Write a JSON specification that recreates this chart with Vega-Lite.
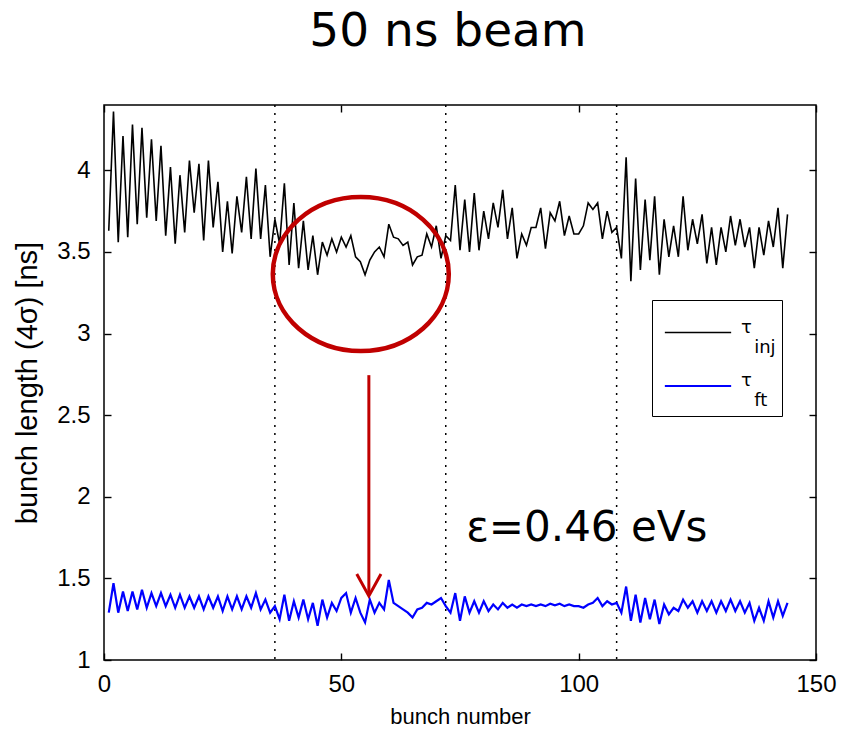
{
  "$schema": "https://vega.github.io/schema/vega-lite/v6.json",
  "width": 712,
  "height": 555,
  "autosize": {"type": "none"},
  "padding": {"left": 104, "top": 105, "right": 28, "bottom": 74},
  "background": "white",
  "title": {"text": "50 ns beam", "font": "DejaVu Sans", "fontSize": 47, "fontWeight": "normal", "color": "black", "offset": 48, "dx": -12},
  "config": {
    "view": {"stroke": "black", "strokeWidth": 1.5},
    "axis": {"domain": false, "grid": false, "tickColor": "black", "tickSize": 7, "offset": -7, "tickWidth": 1.4, "labelColor": "black", "labelFont": "Liberation Sans", "labelFontSize": 24, "labelFlush": false, "labelOverlap": false, "titleFont": "Liberation Sans", "titleFontSize": 22, "titleFontWeight": "normal", "titleColor": "black"}
  },
  "datasets": {
    "main": [
      {"b":1,"v":3.63,"s":"τ_inj"},{"b":2,"v":4.36,"s":"τ_inj"},{"b":3,"v":3.56,"s":"τ_inj"},{"b":4,"v":4.21,"s":"τ_inj"},{"b":5,"v":3.59,"s":"τ_inj"},{"b":6,"v":4.28,"s":"τ_inj"},{"b":7,"v":3.67,"s":"τ_inj"},{"b":8,"v":4.26,"s":"τ_inj"},{"b":9,"v":3.71,"s":"τ_inj"},{"b":10,"v":4.19,"s":"τ_inj"},
      {"b":11,"v":3.69,"s":"τ_inj"},{"b":12,"v":4.15,"s":"τ_inj"},{"b":13,"v":3.60,"s":"τ_inj"},{"b":14,"v":4.02,"s":"τ_inj"},{"b":15,"v":3.55,"s":"τ_inj"},{"b":16,"v":3.97,"s":"τ_inj"},{"b":17,"v":3.62,"s":"τ_inj"},{"b":18,"v":4.06,"s":"τ_inj"},{"b":19,"v":3.74,"s":"τ_inj"},{"b":20,"v":4.04,"s":"τ_inj"},
      {"b":21,"v":3.57,"s":"τ_inj"},{"b":22,"v":4.06,"s":"τ_inj"},{"b":23,"v":3.65,"s":"τ_inj"},{"b":24,"v":3.93,"s":"τ_inj"},{"b":25,"v":3.50,"s":"τ_inj"},{"b":26,"v":3.81,"s":"τ_inj"},{"b":27,"v":3.49,"s":"τ_inj"},{"b":28,"v":3.84,"s":"τ_inj"},{"b":29,"v":3.62,"s":"τ_inj"},{"b":30,"v":3.96,"s":"τ_inj"},
      {"b":31,"v":3.58,"s":"τ_inj"},{"b":32,"v":4.01,"s":"τ_inj"},{"b":33,"v":3.58,"s":"τ_inj"},{"b":34,"v":3.91,"s":"τ_inj"},{"b":35,"v":3.47,"s":"τ_inj"},{"b":36,"v":3.70,"s":"τ_inj"},{"b":37,"v":3.55,"s":"τ_inj"},{"b":38,"v":3.92,"s":"τ_inj"},{"b":39,"v":3.42,"s":"τ_inj"},{"b":40,"v":3.80,"s":"τ_inj"},
      {"b":41,"v":3.40,"s":"τ_inj"},{"b":42,"v":3.69,"s":"τ_inj"},{"b":43,"v":3.39,"s":"τ_inj"},{"b":44,"v":3.60,"s":"τ_inj"},{"b":45,"v":3.36,"s":"τ_inj"},{"b":46,"v":3.56,"s":"τ_inj"},{"b":47,"v":3.48,"s":"τ_inj"},{"b":48,"v":3.58,"s":"τ_inj"},{"b":49,"v":3.50,"s":"τ_inj"},{"b":50,"v":3.59,"s":"τ_inj"},
      {"b":51,"v":3.53,"s":"τ_inj"},{"b":52,"v":3.60,"s":"τ_inj"},{"b":53,"v":3.47,"s":"τ_inj"},{"b":54,"v":3.44,"s":"τ_inj"},{"b":55,"v":3.36,"s":"τ_inj"},{"b":56,"v":3.45,"s":"τ_inj"},{"b":57,"v":3.50,"s":"τ_inj"},{"b":58,"v":3.53,"s":"τ_inj"},{"b":59,"v":3.47,"s":"τ_inj"},{"b":60,"v":3.67,"s":"τ_inj"},
      {"b":61,"v":3.59,"s":"τ_inj"},{"b":62,"v":3.58,"s":"τ_inj"},{"b":63,"v":3.54,"s":"τ_inj"},{"b":64,"v":3.56,"s":"τ_inj"},{"b":65,"v":3.42,"s":"τ_inj"},{"b":66,"v":3.47,"s":"τ_inj"},{"b":67,"v":3.48,"s":"τ_inj"},{"b":68,"v":3.61,"s":"τ_inj"},{"b":69,"v":3.53,"s":"τ_inj"},{"b":70,"v":3.66,"s":"τ_inj"},
      {"b":71,"v":3.46,"s":"τ_inj"},{"b":72,"v":3.60,"s":"τ_inj"},{"b":73,"v":3.57,"s":"τ_inj"},{"b":74,"v":3.91,"s":"τ_inj"},{"b":75,"v":3.51,"s":"τ_inj"},{"b":76,"v":3.82,"s":"τ_inj"},{"b":77,"v":3.50,"s":"τ_inj"},{"b":78,"v":3.86,"s":"τ_inj"},{"b":79,"v":3.51,"s":"τ_inj"},{"b":80,"v":3.75,"s":"τ_inj"},
      {"b":81,"v":3.58,"s":"τ_inj"},{"b":82,"v":3.80,"s":"τ_inj"},{"b":83,"v":3.65,"s":"τ_inj"},{"b":84,"v":3.88,"s":"τ_inj"},{"b":85,"v":3.58,"s":"τ_inj"},{"b":86,"v":3.77,"s":"τ_inj"},{"b":87,"v":3.46,"s":"τ_inj"},{"b":88,"v":3.61,"s":"τ_inj"},{"b":89,"v":3.54,"s":"τ_inj"},{"b":90,"v":3.65,"s":"τ_inj"},
      {"b":91,"v":3.65,"s":"τ_inj"},{"b":92,"v":3.77,"s":"τ_inj"},{"b":93,"v":3.52,"s":"τ_inj"},{"b":94,"v":3.74,"s":"τ_inj"},{"b":95,"v":3.69,"s":"τ_inj"},{"b":96,"v":3.81,"s":"τ_inj"},{"b":97,"v":3.60,"s":"τ_inj"},{"b":98,"v":3.72,"s":"τ_inj"},{"b":99,"v":3.61,"s":"τ_inj"},{"b":100,"v":3.61,"s":"τ_inj"},
      {"b":101,"v":3.66,"s":"τ_inj"},{"b":102,"v":3.80,"s":"τ_inj"},{"b":103,"v":3.76,"s":"τ_inj"},{"b":104,"v":3.80,"s":"τ_inj"},{"b":105,"v":3.58,"s":"τ_inj"},{"b":106,"v":3.75,"s":"τ_inj"},{"b":107,"v":3.62,"s":"τ_inj"},{"b":108,"v":3.65,"s":"τ_inj"},{"b":109,"v":3.46,"s":"τ_inj"},{"b":110,"v":4.08,"s":"τ_inj"},
      {"b":111,"v":3.32,"s":"τ_inj"},{"b":112,"v":3.95,"s":"τ_inj"},{"b":113,"v":3.39,"s":"τ_inj"},{"b":114,"v":3.82,"s":"τ_inj"},{"b":115,"v":3.45,"s":"τ_inj"},{"b":116,"v":3.84,"s":"τ_inj"},{"b":117,"v":3.36,"s":"τ_inj"},{"b":118,"v":3.70,"s":"τ_inj"},{"b":119,"v":3.47,"s":"τ_inj"},{"b":120,"v":3.66,"s":"τ_inj"},
      {"b":121,"v":3.47,"s":"τ_inj"},{"b":122,"v":3.84,"s":"τ_inj"},{"b":123,"v":3.51,"s":"τ_inj"},{"b":124,"v":3.70,"s":"τ_inj"},{"b":125,"v":3.55,"s":"τ_inj"},{"b":126,"v":3.73,"s":"τ_inj"},{"b":127,"v":3.43,"s":"τ_inj"},{"b":128,"v":3.65,"s":"τ_inj"},{"b":129,"v":3.42,"s":"τ_inj"},{"b":130,"v":3.65,"s":"τ_inj"},
      {"b":131,"v":3.50,"s":"τ_inj"},{"b":132,"v":3.72,"s":"τ_inj"},{"b":133,"v":3.54,"s":"τ_inj"},{"b":134,"v":3.70,"s":"τ_inj"},{"b":135,"v":3.53,"s":"τ_inj"},{"b":136,"v":3.65,"s":"τ_inj"},{"b":137,"v":3.40,"s":"τ_inj"},{"b":138,"v":3.65,"s":"τ_inj"},{"b":139,"v":3.48,"s":"τ_inj"},{"b":140,"v":3.69,"s":"τ_inj"},
      {"b":141,"v":3.53,"s":"τ_inj"},{"b":142,"v":3.77,"s":"τ_inj"},{"b":143,"v":3.40,"s":"τ_inj"},{"b":144,"v":3.73,"s":"τ_inj"},
      {"b":1,"v":1.29,"s":"τ_ft"},{"b":2,"v":1.47,"s":"τ_ft"},{"b":3,"v":1.29,"s":"τ_ft"},{"b":4,"v":1.42,"s":"τ_ft"},{"b":5,"v":1.30,"s":"τ_ft"},{"b":6,"v":1.42,"s":"τ_ft"},{"b":7,"v":1.31,"s":"τ_ft"},{"b":8,"v":1.43,"s":"τ_ft"},{"b":9,"v":1.32,"s":"τ_ft"},{"b":10,"v":1.41,"s":"τ_ft"},
      {"b":11,"v":1.33,"s":"τ_ft"},{"b":12,"v":1.41,"s":"τ_ft"},{"b":13,"v":1.33,"s":"τ_ft"},{"b":14,"v":1.40,"s":"τ_ft"},{"b":15,"v":1.32,"s":"τ_ft"},{"b":16,"v":1.40,"s":"τ_ft"},{"b":17,"v":1.32,"s":"τ_ft"},{"b":18,"v":1.39,"s":"τ_ft"},{"b":19,"v":1.32,"s":"τ_ft"},{"b":20,"v":1.39,"s":"τ_ft"},
      {"b":21,"v":1.31,"s":"τ_ft"},{"b":22,"v":1.39,"s":"τ_ft"},{"b":23,"v":1.32,"s":"τ_ft"},{"b":24,"v":1.39,"s":"τ_ft"},{"b":25,"v":1.30,"s":"τ_ft"},{"b":26,"v":1.39,"s":"τ_ft"},{"b":27,"v":1.31,"s":"τ_ft"},{"b":28,"v":1.39,"s":"τ_ft"},{"b":29,"v":1.31,"s":"τ_ft"},{"b":30,"v":1.39,"s":"τ_ft"},
      {"b":31,"v":1.32,"s":"τ_ft"},{"b":32,"v":1.41,"s":"τ_ft"},{"b":33,"v":1.31,"s":"τ_ft"},{"b":34,"v":1.37,"s":"τ_ft"},{"b":35,"v":1.29,"s":"τ_ft"},{"b":36,"v":1.33,"s":"τ_ft"},{"b":37,"v":1.25,"s":"τ_ft"},{"b":38,"v":1.40,"s":"τ_ft"},{"b":39,"v":1.24,"s":"τ_ft"},{"b":40,"v":1.36,"s":"τ_ft"},
      {"b":41,"v":1.26,"s":"τ_ft"},{"b":42,"v":1.37,"s":"τ_ft"},{"b":43,"v":1.25,"s":"τ_ft"},{"b":44,"v":1.35,"s":"τ_ft"},{"b":45,"v":1.21,"s":"τ_ft"},{"b":46,"v":1.37,"s":"τ_ft"},{"b":47,"v":1.26,"s":"τ_ft"},{"b":48,"v":1.35,"s":"τ_ft"},{"b":49,"v":1.30,"s":"τ_ft"},{"b":50,"v":1.38,"s":"τ_ft"},
      {"b":51,"v":1.41,"s":"τ_ft"},{"b":52,"v":1.29,"s":"τ_ft"},{"b":53,"v":1.38,"s":"τ_ft"},{"b":54,"v":1.29,"s":"τ_ft"},{"b":55,"v":1.23,"s":"τ_ft"},{"b":56,"v":1.37,"s":"τ_ft"},{"b":57,"v":1.29,"s":"τ_ft"},{"b":58,"v":1.35,"s":"τ_ft"},{"b":59,"v":1.31,"s":"τ_ft"},{"b":60,"v":1.49,"s":"τ_ft"},
      {"b":61,"v":1.35,"s":"τ_ft"},{"b":62,"v":1.33,"s":"τ_ft"},{"b":63,"v":1.31,"s":"τ_ft"},{"b":64,"v":1.29,"s":"τ_ft"},{"b":65,"v":1.26,"s":"τ_ft"},{"b":66,"v":1.31,"s":"τ_ft"},{"b":67,"v":1.32,"s":"τ_ft"},{"b":68,"v":1.35,"s":"τ_ft"},{"b":69,"v":1.34,"s":"τ_ft"},{"b":70,"v":1.36,"s":"τ_ft"},
      {"b":71,"v":1.38,"s":"τ_ft"},{"b":72,"v":1.33,"s":"τ_ft"},{"b":73,"v":1.29,"s":"τ_ft"},{"b":74,"v":1.41,"s":"τ_ft"},{"b":75,"v":1.24,"s":"τ_ft"},{"b":76,"v":1.39,"s":"τ_ft"},{"b":77,"v":1.29,"s":"τ_ft"},{"b":78,"v":1.36,"s":"τ_ft"},{"b":79,"v":1.29,"s":"τ_ft"},{"b":80,"v":1.36,"s":"τ_ft"},
      {"b":81,"v":1.30,"s":"τ_ft"},{"b":82,"v":1.34,"s":"τ_ft"},{"b":83,"v":1.31,"s":"τ_ft"},{"b":84,"v":1.35,"s":"τ_ft"},{"b":85,"v":1.32,"s":"τ_ft"},{"b":86,"v":1.34,"s":"τ_ft"},{"b":87,"v":1.32,"s":"τ_ft"},{"b":88,"v":1.34,"s":"τ_ft"},{"b":89,"v":1.33,"s":"τ_ft"},{"b":90,"v":1.34,"s":"τ_ft"},
      {"b":91,"v":1.33,"s":"τ_ft"},{"b":92,"v":1.34,"s":"τ_ft"},{"b":93,"v":1.33,"s":"τ_ft"},{"b":94,"v":1.345,"s":"τ_ft"},{"b":95,"v":1.335,"s":"τ_ft"},{"b":96,"v":1.345,"s":"τ_ft"},{"b":97,"v":1.33,"s":"τ_ft"},{"b":98,"v":1.34,"s":"τ_ft"},{"b":99,"v":1.33,"s":"τ_ft"},{"b":100,"v":1.33,"s":"τ_ft"},
      {"b":101,"v":1.32,"s":"τ_ft"},{"b":102,"v":1.34,"s":"τ_ft"},{"b":103,"v":1.35,"s":"τ_ft"},{"b":104,"v":1.38,"s":"τ_ft"},{"b":105,"v":1.33,"s":"τ_ft"},{"b":106,"v":1.36,"s":"τ_ft"},{"b":107,"v":1.34,"s":"τ_ft"},{"b":108,"v":1.35,"s":"τ_ft"},{"b":109,"v":1.29,"s":"τ_ft"},{"b":110,"v":1.45,"s":"τ_ft"},
      {"b":111,"v":1.24,"s":"τ_ft"},{"b":112,"v":1.40,"s":"τ_ft"},{"b":113,"v":1.23,"s":"τ_ft"},{"b":114,"v":1.38,"s":"τ_ft"},{"b":115,"v":1.25,"s":"τ_ft"},{"b":116,"v":1.37,"s":"τ_ft"},{"b":117,"v":1.22,"s":"τ_ft"},{"b":118,"v":1.34,"s":"τ_ft"},{"b":119,"v":1.28,"s":"τ_ft"},{"b":120,"v":1.32,"s":"τ_ft"},
      {"b":121,"v":1.30,"s":"τ_ft"},{"b":122,"v":1.37,"s":"τ_ft"},{"b":123,"v":1.32,"s":"τ_ft"},{"b":124,"v":1.36,"s":"τ_ft"},{"b":125,"v":1.29,"s":"τ_ft"},{"b":126,"v":1.36,"s":"τ_ft"},{"b":127,"v":1.30,"s":"τ_ft"},{"b":128,"v":1.36,"s":"τ_ft"},{"b":129,"v":1.29,"s":"τ_ft"},{"b":130,"v":1.36,"s":"τ_ft"},
      {"b":131,"v":1.30,"s":"τ_ft"},{"b":132,"v":1.37,"s":"τ_ft"},{"b":133,"v":1.30,"s":"τ_ft"},{"b":134,"v":1.36,"s":"τ_ft"},{"b":135,"v":1.29,"s":"τ_ft"},{"b":136,"v":1.35,"s":"τ_ft"},{"b":137,"v":1.24,"s":"τ_ft"},{"b":138,"v":1.32,"s":"τ_ft"},{"b":139,"v":1.24,"s":"τ_ft"},{"b":140,"v":1.36,"s":"τ_ft"},
      {"b":141,"v":1.26,"s":"τ_ft"},{"b":142,"v":1.36,"s":"τ_ft"},{"b":143,"v":1.27,"s":"τ_ft"},{"b":144,"v":1.35,"s":"τ_ft"}
    ]
  },
  "layer": [
    {
      "data": {"values": [{"x": 36}, {"x": 72}, {"x": 108}]},
      "mark": {"type": "rule", "color": "black", "strokeWidth": 1.5, "strokeDash": [2, 6]},
      "encoding": {
        "x": {"field": "x", "type": "quantitative", "scale": {"domain": [0, 150], "nice": false}, "axis": {"orient": "top", "labels": false, "title": null, "values": [0, 50, 100, 150]}}
      }
    },
    {
      "data": {"name": "main"},
      "mark": {"type": "line", "interpolate": "linear"},
      "encoding": {
        "x": {"field": "b", "type": "quantitative", "scale": {"domain": [0, 150], "nice": false}, "axis": {"orient": "bottom", "values": [0, 50, 100, 150], "title": "bunch number", "labelPadding": 12, "titlePadding": 10}},
        "y": {"field": "v", "type": "quantitative", "scale": {"domain": [1, 4.4], "nice": false, "zero": false}, "axis": {"orient": "left", "values": [1, 1.5, 2, 2.5, 3, 3.5, 4], "format": "~g", "title": "bunch length (4σ) [ns]", "titleFontSize": 29, "labelPadding": 14, "titlePadding": 14}},
        "color": {"field": "s", "type": "nominal", "scale": {"domain": ["τ_inj", "τ_ft"], "range": ["black", "#0000ff"]},
          "legend": {"orient": "none", "legendX": 548, "legendY": 195, "title": null, "symbolType": "M -1.3 0 L 1.3 0", "symbolSize": 2601, "symbolStrokeWidth": 1.5, "symbolOffset": 13, "labelFont": "DejaVu Sans", "labelFontSize": 18, "labelLineHeight": 14, "labelBaseline": "alphabetic", "labelColor": "black", "labelExpr": "['τ', '\u2800' + split(datum.label, '_')[1]]", "strokeColor": "black", "fillColor": "white", "padding": 6, "rowPadding": 2, "labelOffset": 16}},
        "strokeWidth": {"field": "s", "type": "nominal", "scale": {"domain": ["τ_inj", "τ_ft"], "range": [1.6, 2.2]}, "legend": null}
      }
    },
    {
      "data": {"values": [{"x": 54.1, "y": 3.364}]},
      "mark": {"type": "point", "shape": "M -1 0 A 1 0.875 0 1 1 1 0 A 1 0.875 0 1 1 -1 0 Z", "filled": false, "stroke": "#c00000", "strokeWidth": 4.5, "size": 30976, "opacity": 1},
      "encoding": {
        "x": {"field": "x", "type": "quantitative", "scale": {"domain": [0, 150], "nice": false}, "axis": null},
        "y": {"field": "y", "type": "quantitative", "scale": {"domain": [1, 4.4], "nice": false, "zero": false}, "axis": {"orient": "right", "labels": false, "title": null, "values": [1, 1.5, 2, 2.5, 3, 3.5, 4]}}
      }
    },
    {
      "data": {"values": [{"x": 55.8, "y": 2.745, "y2": 1.41}]},
      "mark": {"type": "rule", "color": "#c00000", "strokeWidth": 3},
      "encoding": {
        "x": {"field": "x", "type": "quantitative", "axis": null},
        "y": {"field": "y", "type": "quantitative", "axis": null},
        "y2": {"field": "y2"}
      }
    },
    {
      "data": {"values": [{"x": 55.8, "y": 1.392}]},
      "mark": {"type": "point", "shape": "M -0.55 -1 L 0 0 L 0.55 -1", "filled": false, "stroke": "#c00000", "strokeWidth": 3, "size": 1936, "opacity": 1, "strokeJoin": "miter"},
      "encoding": {
        "x": {"field": "x", "type": "quantitative", "axis": null},
        "y": {"field": "y", "type": "quantitative", "axis": null}
      }
    },
    {
      "data": {"values": [{"x": 76.3, "y": 1.81, "t": "ε=0.46 eVs"}]},
      "mark": {"type": "text", "align": "left", "baseline": "middle", "font": "DejaVu Sans", "fontSize": 42, "color": "black"},
      "encoding": {
        "x": {"field": "x", "type": "quantitative", "axis": null},
        "y": {"field": "y", "type": "quantitative", "axis": null},
        "text": {"field": "t"}
      }
    }
  ],
  "resolve": {"axis": {"x": "independent", "y": "independent"}}
}
